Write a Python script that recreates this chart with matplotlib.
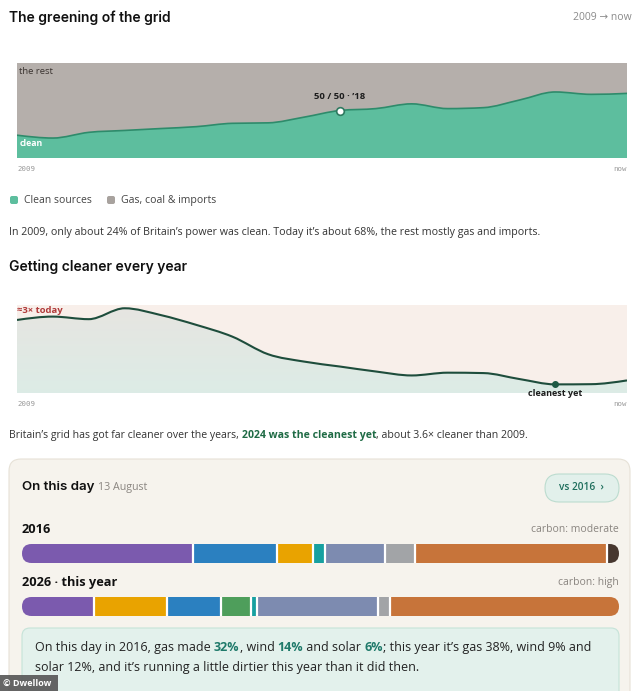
import numpy as np
import matplotlib
matplotlib.use("Agg")
import matplotlib.pyplot as plt
import matplotlib.transforms as mtransforms
from matplotlib.path import Path
from matplotlib.patches import PathPatch, FancyBboxPatch, Rectangle

# ---- data ----
years = list(range(2009, 2027))
clean_share = [24, 21, 27, 29, 31, 33, 36.5, 37, 43, 50, 52, 57, 52, 53, 61, 69.5, 67, 68]
carbon_gkwh = [450, 467, 454, 509, 475, 425, 366, 277, 240, 215, 190, 170, 184, 182, 152, 125, 126, 145]
carbon_lim = (81.5, 525.5)

mix_2016_names = ["nuclear", "wind", "solar", "hydro", "imports", "other", "gas", "coal"]
mix_2016_vals = [28.5, 14, 6, 2, 10, 5, 32, 2]
mix_2026_names = ["nuclear", "solar", "wind", "biomass", "hydro", "imports", "other", "gas"]
mix_2026_vals = [12, 12, 9, 5, 1, 20, 2, 38]

src_colors = {
    "nuclear": "#7b5aae", "wind": "#2b80c0", "solar": "#e9a300", "hydro": "#17a0a0",
    "imports": "#7d8bb0", "other": "#a2a4a7", "gas": "#c7743a", "coal": "#47372f",
    "biomass": "#4e9e5b",
}

W, H = 634, 691
BODY = ["Open Sans", "DejaVu Sans"]
HEAD = "Inter"

fig = plt.figure(figsize=(W / 100, H / 100), dpi=100)
fig.patch.set_facecolor("white")
# pixel coords, origin top-left
px = mtransforms.Affine2D().scale(1 / W, -1 / H).translate(0, 1) + fig.transFigure
rend = fig.canvas.get_renderer()


def axes_px(l, t, r, b, z=2):
    ax = fig.add_axes([l / W, 1 - b / H, (r - l) / W, (b - t) / H], zorder=z)
    ax.set_axis_off()
    return ax


def text_width(s, **kw):
    t = fig.text(0, 0, "." + s + ".", **kw)
    w1 = t.get_window_extent(rend).width
    t.remove()
    t = fig.text(0, 0, "..", **kw)
    w0 = t.get_window_extent(rend).width
    t.remove()
    return w1 - w0


def rich(x, y, parts, **kw):
    for s, color, weight in parts:
        fig.text(x, y, s, transform=px, color=color, fontweight=weight,
                 va="center", ha="left", zorder=5, **kw)
        x += text_width(s, fontweight=weight, **kw)
    return x


def monotone(x, y):
    # monotone-x cubic curve, like d3.curveMonotoneX
    x = np.asarray(x, float)
    y = np.asarray(y, float)
    n = len(x)
    h = np.diff(x)
    s = np.diff(y) / h
    t = np.zeros(n)
    for i in range(1, n - 1):
        p = (s[i - 1] * h[i] + s[i] * h[i - 1]) / (h[i - 1] + h[i])
        t[i] = (np.sign(s[i - 1]) + np.sign(s[i])) * min(abs(s[i - 1]), abs(s[i]), 0.5 * abs(p))
    t[0] = (3 * s[0] - t[1]) / 2
    t[-1] = (3 * s[-1] - t[-2]) / 2
    verts = [(x[0], y[0])]
    codes = [Path.MOVETO]
    for i in range(n - 1):
        d = h[i] / 3
        verts += [(x[i] + d, y[i] + t[i] * d), (x[i + 1] - d, y[i + 1] - t[i + 1] * d), (x[i + 1], y[i + 1])]
        codes += [Path.CURVE4] * 3
    return verts, codes


def area_patch(x, y, base, **kw):
    v, c = monotone(x, y)
    v = v + [(x[-1], base), (x[0], base), (x[0], y[0])]
    c = c + [Path.LINETO, Path.LINETO, Path.CLOSEPOLY]
    return PathPatch(Path(v, c), **kw)


def line_patch(x, y, **kw):
    v, c = monotone(x, y)
    return PathPatch(Path(v, c), fill=False, **kw)


def small_tick(x, y, s, ha="left"):
    fig.text(x, y, s, transform=px, fontsize=5.3, family="DejaVu Sans Mono", color="#999999",
             va="center", ha=ha)


# ---- section 1 ----
fig.text(9, 18, "The greening of the grid", transform=px, fontsize=10, family=HEAD,
         fontweight="semibold", color="#111111", va="center")
fig.text(632, 18, "2009 \u2192 now", transform=px, fontsize=7.5, family=BODY,
         color="#8a8a8a", va="center", ha="right")

ax1 = axes_px(17, 63, 627, 158)
ax1.set_xlim(years[0], years[-1])
ax1.set_ylim(0, 100)
ax1.add_patch(Rectangle((years[0], 0), years[-1] - years[0], 100, color="#b5afab", lw=0))
ax1.add_patch(area_patch(years, clean_share, 0, facecolor="#5dbe9e", edgecolor="none"))
ax1.add_patch(line_patch(years, clean_share, edgecolor="#2e8b6b", lw=1.2))
i18 = years.index(2018)
ax1.plot([2018], [clean_share[i18]], "o", ms=5.5, mfc="white", mec="#2e7a60", mew=1.2)
ax1.annotate("50 / 50 \u00b7 \u201918", (2018, clean_share[i18]), xytext=(0, 7),
             textcoords="offset points", ha="center", va="bottom", fontsize=6.8,
             fontweight="bold", family=BODY, color="#1c1c1c")
ax1.text(0.004, 0.91, "the rest", transform=ax1.transAxes, fontsize=6.8, family=BODY,
         color="#3a3330", va="center")
ax1.text(0.004, 0.15, "clean", transform=ax1.transAxes, fontsize=6.3, family=BODY,
         fontweight="bold", color="white", va="center")
small_tick(17, 169, "2009")
small_tick(627, 169, "now", ha="right")

# legend
fig.add_artist(FancyBboxPatch((10, 196), 8, 8, boxstyle="round,pad=0,rounding_size=2",
                              transform=px, fc="#5dbe9e", ec="none"))
fig.text(24, 200.5, "Clean sources", transform=px, fontsize=7.5, family=BODY, color="#444444", va="center")
fig.add_artist(FancyBboxPatch((107, 196), 8, 8, boxstyle="round,pad=0,rounding_size=2",
                              transform=px, fc="#a8a29e", ec="none"))
fig.text(121, 200.5, "Gas, coal & imports", transform=px, fontsize=7.6, family=BODY, color="#444444", va="center")

fig.text(9, 232, "In 2009, only about 24% of Britain\u2019s power was clean. Today it\u2019s about 68%, "
         "the rest mostly gas and imports.", transform=px, fontsize=7.7, family=BODY,
         color="#333333", va="center")

# ---- section 2 ----
fig.text(9, 267, "Getting cleaner every year", transform=px, fontsize=10, family=HEAD,
         fontweight="semibold", color="#111111", va="center")

ax2 = axes_px(17, 305, 627, 393)
ax2.set_xlim(years[0], years[-1])
ax2.set_ylim(*carbon_lim)
ax2.add_patch(Rectangle((years[0], carbon_lim[0]), years[-1] - years[0], carbon_lim[1] - carbon_lim[0],
                        color="#f8efea", lw=0, zorder=0))
top = np.array([0.905, 0.898, 0.882])
bot = np.array([0.865, 0.925, 0.902])
grad = np.linspace(0, 1, 64)[:, None, None] * (bot - top) + top
grad = np.repeat(grad, 2, axis=1)
under = area_patch(years, carbon_gkwh, carbon_lim[0], facecolor="none", edgecolor="none")
ax2.add_patch(under)
im = ax2.imshow(grad, extent=(years[0], years[-1], carbon_lim[0], carbon_lim[1]),
                aspect="auto", origin="upper", interpolation="bilinear", zorder=0.5)
im.set_clip_path(under)
ax2.add_patch(line_patch(years, carbon_gkwh, edgecolor="#1e4d3c", lw=1.5, zorder=2))
best = years.index(2024)
ax2.plot([2024], [carbon_gkwh[best]], "o", ms=4, color="#1e5a44", zorder=3)
ax2.annotate("cleanest yet", (2024, carbon_gkwh[best]), xytext=(0, -3), textcoords="offset points",
             ha="center", va="top", fontsize=6.5, fontweight="bold", family=BODY,
             color="#1c1c1c", annotation_clip=False)
ax2.text(0.0, 0.935, "\u22483\u00d7 today", transform=ax2.transAxes, fontsize=6.8, family=BODY,
         fontweight="bold", color="#b03a3a", va="center")
small_tick(17, 404, "2009")
small_tick(627, 404, "now", ha="right")

rich(9, 436, [("Britain\u2019s grid has got far cleaner over the years, ", "#333333", "normal"),
              ("2024 was the cleanest yet", "#1f6b45", "bold"),
              (", about 3.6\u00d7 cleaner than 2009.", "#333333", "normal")],
     fontsize=7.6, family=BODY)

# ---- on this day card ----
fig.add_artist(FancyBboxPatch((9, 459), 621, 260, boxstyle="round,pad=0,rounding_size=12",
                              transform=px, fc="#f6f3ed", ec="#e6e1d7", lw=0.8, zorder=1))
x = rich(22, 487, [("On this day", "#111111", "semibold")], fontsize=9.6, family=HEAD)
fig.text(x + 4, 488, "13 August", transform=px, fontsize=7.7, family=BODY, color="#8a8580",
         va="center", zorder=5)

fig.add_artist(FancyBboxPatch((545, 474), 74, 28, boxstyle="round,pad=0,rounding_size=14",
                              transform=px, fc="#e2f0eb", ec="#bcdccf", lw=0.8, zorder=3))
fig.text(581, 488, "vs 2016  \u203a", transform=px, fontsize=7.3, family=BODY, fontweight="semibold",
         color="#1e6e5c", va="center", ha="center", zorder=5)


def mix_bar(top_y, names, vals, label, carbon):
    fig.text(22, top_y - 14, label, transform=px, fontsize=9.2, family=BODY, fontweight="bold",
             color="#111111", va="center", zorder=5)
    fig.text(619, top_y - 14, carbon, transform=px, fontsize=7.5, family=BODY, color="#8a8580",
             va="center", ha="right", zorder=5)
    ax = axes_px(22, top_y, 619, top_y + 19, z=4)
    ax.set_xlim(0, sum(vals))
    ax.set_ylim(0, 1)
    clip = FancyBboxPatch((22, top_y), 597, 19, boxstyle="round,pad=0,rounding_size=9.5",
                          transform=px, fc="none", ec="none")
    ends = np.cumsum(vals)
    lefts = np.concatenate([[0], ends[:-1]])
    bars = ax.barh([0.5], vals, left=lefts, height=1.0,
                   color=[src_colors[n] for n in names], edgecolor="none")
    for b in bars:
        b.set_clip_path(clip)
    # thin white gaps between segments
    ax.vlines(ends[:-1], 0, 1, color="white", lw=1.6)


mix_bar(544, mix_2016_names, mix_2016_vals, "2016", "carbon: moderate")
mix_bar(597, mix_2026_names, mix_2026_vals, "2026 \u00b7 this year", "carbon: high")

fig.add_artist(FancyBboxPatch((22, 628), 597, 80, boxstyle="round,pad=0,rounding_size=8",
                              transform=px, fc="#e3f1ec", ec="#c5e3d8", lw=0.8, zorder=3))
g = "#1f7a6a"
rich(35, 648, [("On this day in 2016, gas made ", "#222222", "normal"), ("32%", g, "bold"),
               (", wind ", "#222222", "normal"), ("14%", g, "bold"),
               (" and solar ", "#222222", "normal"), ("6%", g, "bold"),
               ("; this year it\u2019s gas 38%, wind 9% and", "#222222", "normal")],
     fontsize=9, family=BODY)
fig.text(35, 668, "solar 12%, and it\u2019s running a little dirtier this year than it did then.",
         transform=px, fontsize=9, family=BODY, color="#222222", va="center", zorder=5)

# watermark
fig.add_artist(Rectangle((0, 675), 58, 16, transform=px, fc="#555555", ec="none", alpha=0.9, zorder=6))
fig.text(3, 683, "\u00a9 Dwellow", transform=px, fontsize=6.5, family=BODY, fontweight="bold",
         color="white", va="center", zorder=7)

fig.savefig("out.png", dpi=100)
